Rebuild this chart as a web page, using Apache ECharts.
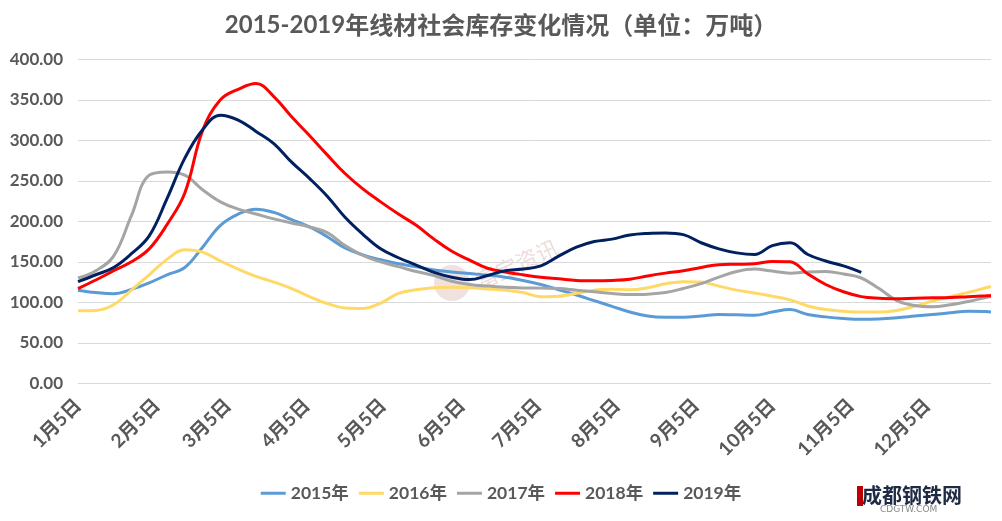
<!DOCTYPE html>
<html>
<head>
<meta charset="utf-8">
<script src="https://cdn.jsdelivr.net/npm/echarts@6/dist/echarts.min.js"></script>
<style>
html,body{margin:0;padding:0;background:#fff;}
#chart{width:1002px;height:521px;}
</style>
</head>
<body>
<div id="chart"></div>
<script>
// Day offsets from 1月5日 for each sampled point
const days = [0,7,14,21,28,35,42,49,56,63,70,77,84,91,98,105,112,119,126,133,140,147,154,161,168,175,182,189,196,203,210,217,224,231,238,245,252,259,266,273,280,287,294,301,308,315,322,329,336,343,350,357,359];

const s2015 = [115,112,110.5,116,124,134,143,168,195,209, 215,211,202,193,181,167,158.5,152.5,147.5,144, 140,137.5,135.5,133.5,131,127,122,115.5,109,102, 95,88,83,81.5,81.5,83,85,84.5,84,88, 91,85,82,80,79,79.5,81,83,85,87, 89,88.5,88];
const s2016 = [89.5,90,97,115,134,153,165,162,151,141, 132,125,117,107,98.5,93,92.5,99,111,115.5, 118,118.5,118,116.5,115,112,107,107.5,111,115, 116,115.5,118,123,125.5,125,120,115,111.5,107.5, 103,95.5,91,89,88,88,90,95,101.5,107, 112,118,119.5];
const s2017 = [130,139,157,207,257,261,257,239,224,215, 209,203,198,193,186,170,158,150,144,138, 133,126,122,120,118.5,117.7,117.5,117,115,113, 111,109.5,110,112,117,123,131,138,141,138.5, 136,137.5,138,135,130,117,102,96,94.5,97, 101,106,107];
const s2018 = [117,127.5,139,150,166,196,235,312,350,363, 370,354,329,306,282,259,240,224,209,195, 178,163,152,142,137.5,134,131,129,127,126.5, 127,128.5,132.5,136,139,143,146.5,147,147.5,150.5, 150,135,122,113,107,105,104.5,105,105.5,106, 107,108,108.5];
const s2019 = [125.5,134,143,160,182,228,278,313,331,325, 311,296,273,253,231,205,184,166,155,146, 137,131,128,133,139,141,145,157,168,175, 178,183,185,185.5,183.5,173.5,166,161,159,170, 173.5,159,151,145,137];

const seriesNames = ['2015年','2016年','2017年','2018年','2019年'];
const seriesColors = ['#5B9BD5','#FFD966','#A5A5A5','#FF0000','#002060'];
const seriesValues = [s2015, s2016, s2017, s2018, s2019];

const tickDays = [0,31,59,90,120,151,181,212,243,273,304,334];
const tickLabels = ['1月5日','2月5日','3月5日','4月5日','5月5日','6月5日','7月5日','8月5日','9月5日','10月5日','11月5日','12月5日'];

const FONT = 'Lato, "Noto Sans CJK SC", sans-serif';
const TXT = '#595959';

const chart = echarts.init(document.getElementById('chart'));
chart.setOption({
  animation: false,
  backgroundColor: '#fff',
  title: {
    left: 'center',
    top: 8,
    text: '{a|2015-2019}{b|年线材社会库存变化情况（单位：万吨）}',
    textStyle: {
      rich: {
        a: {fontFamily: FONT, fontWeight: 'bold', fontSize: 24, color: TXT},
        b: {fontFamily: '"Noto Sans CJK SC", sans-serif', fontWeight: 'bold', fontSize: 24, color: TXT}
      }
    }
  },
  grid: {left: 78, right: 11, top: 59.3, bottom: 137.7, containLabel: false},
  legend: {
    bottom: 14,
    left: 'center',
    icon: 'rect',
    itemWidth: 25,
    itemHeight: 3,
    itemGap: 10,
    textStyle: {fontFamily: FONT, fontWeight: 'bold', fontSize: 17.5, color: TXT},
    data: seriesNames
  },
  xAxis: {
    type: 'value',
    min: 0,
    max: 359,
    axisLine: {show: false},
    axisTick: {show: false},
    splitLine: {show: false},
    axisLabel: {
      customValues: tickDays,
      rotate: 45,
      margin: 19,
      fontFamily: FONT,
      fontWeight: 'bold',
      fontSize: 19,
      color: TXT,
      formatter: function (v) {
        const i = tickDays.indexOf(v);
        return i >= 0 ? tickLabels[i] : '';
      }
    }
  },
  yAxis: {
    type: 'value',
    min: 0,
    max: 400,
    interval: 50,
    axisLine: {show: false},
    axisTick: {show: false},
    splitLine: {lineStyle: {color: '#D9D9D9', width: 1}},
    axisLabel: {
      margin: 15,
      fontFamily: FONT,
      fontWeight: 'bold',
      fontSize: 17,
      color: TXT,
      formatter: function (v) { return v.toFixed(2); }
    }
  },
  graphic: [
    {type: 'circle', shape: {cx: 452, cy: 283, r: 18}, style: {fill: 'rgba(205,150,150,0.28)'}, z: 0, silent: true},
    {type: 'text', x: 472, y: 272, rotation: 0.42, style: {text: '富宝资讯', font: '22px "Noto Sans CJK SC"', fill: 'rgba(200,140,140,0.30)'}, z: 0, silent: true},
    {type: 'rect', shape: {x: 857, y: 486, width: 6, height: 20}, style: {fill: '#C00000'}, silent: true},
    {type: 'text', x: 862, y: 485, style: {text: '成都钢铁网', font: 'bold 20px "Noto Sans CJK SC"', fill: '#1F2A44'}, silent: true},
    {type: 'text', x: 880, y: 505, style: {text: 'CDGTW.COM', font: '9px "DejaVu Sans"', fill: '#8A8A8A'}, silent: true}
  ],
  series: seriesValues.map(function (vals, k) {
    return {
      name: seriesNames[k],
      type: 'line',
      smooth: 0.4,
      showSymbol: false,
      symbol: 'none',
      lineStyle: {width: 3, color: seriesColors[k]},
      itemStyle: {color: seriesColors[k]},
      z: 2 + k,
      data: vals.map(function (v, i) { return [days[i], v]; })
    };
  })
});
</script>
</body>
</html>
